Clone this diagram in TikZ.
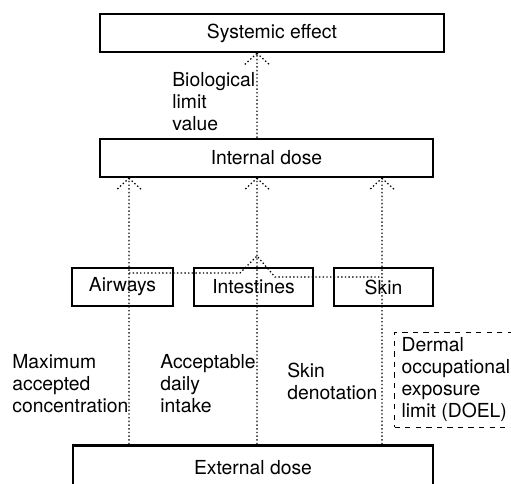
\documentclass[tikz,border=0pt]{standalone}
\usepackage{fontspec}
\setmainfont{TeX Gyre Heros}
\tikzset{
  box/.style={draw, line width=1.4pt, minimum height=0.76cm, inner sep=0pt},
  conn/.style={line width=0.7pt, dash pattern=on 0.8pt off 1.3pt},
  lbl/.style={align=left, inner sep=0pt},
}
\begin{document}
\begin{tikzpicture}[font=\fontsize{11}{12.5}\selectfont]
    \useasboundingbox (0,0) rectangle (10.22,9.68);
    \clip (0,0) rectangle (10.22,9.68);
    % boxes
    \node[box, minimum width=6.88cm] (sys) at (5.44,9.02) {Systemic effect};
    \node[box, minimum width=6.66cm] (int) at (5.33,6.52) {Internal dose};
    \node[box, minimum width=2.02cm] (air) at (2.45,3.94) {Airways};
    \node[box, minimum width=2.38cm] (intes) at (5.07,3.94) {Intestines};
    \node[box, minimum width=1.98cm] (skin) at (7.67,3.94) {Skin};
    \node[box, minimum width=7.2cm, minimum height=0.9cm] (ext) at (5.06,0.32) {External dose};
    % routes
    \coordinate (c1) at (2.58,0);
    \coordinate (c2) at (5.14,0);
    \coordinate (c3) at (7.64,0);
    \draw[conn] (ext.north -| c1) -- (int.south -| c1) -- ++(-0.26,-0.24) (int.south -| c1) -- ++(0.26,-0.24);
    \draw[conn] (ext.north -| c2) -- (int.south -| c2) -- ++(-0.26,-0.24) (int.south -| c2) -- ++(0.26,-0.24);
    \draw[conn] (ext.north -| c3) -- (int.south -| c3) -- ++(-0.26,-0.24) (int.south -| c3) -- ++(0.26,-0.24);
    \draw[conn] (int.north -| c2) -- (sys.south -| c2) -- ++(-0.26,-0.24) (sys.south -| c2) -- ++(0.26,-0.24);
    \draw[conn] (2.58,4.22) -- (4.8,4.22) -- (5.14,4.56) -- (5.5,4.14) -- (7.64,4.14);
    % labels
    \node[lbl, anchor=west] (bio) at (3.44,7.64) {Biological\\limit\\value};
    \node[lbl, anchor=west] (mac) at (0.24,2.0) {Maximum\\accepted\\concentration};
    \node[lbl, anchor=west] (adi) at (3.2,2.0) {Acceptable\\daily\\intake};
    \node[lbl, anchor=west] (skd) at (5.74,2.06) {Skin\\denotation};
    \node[lbl, draw, dashed, line width=0.7pt, inner xsep=4pt, inner ysep=3pt, anchor=north west] (doel) at (7.88,3.04) {Dermal\\occupational\\exposure\\limit (DOEL)};
\end{tikzpicture}
\end{document}
